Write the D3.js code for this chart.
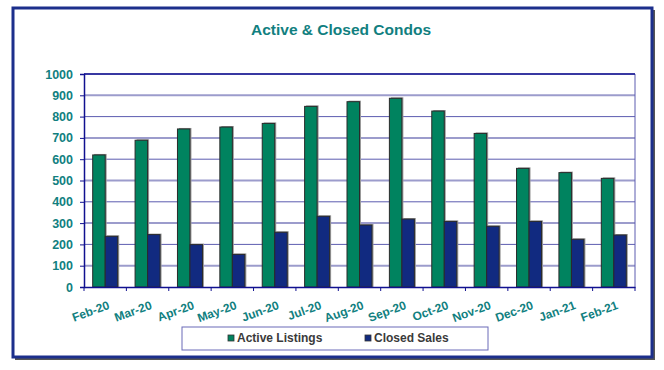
<!DOCTYPE html>
<html lang="en">
<head>
<meta charset="UTF-8">
<title>Active & Closed Condos</title>
<style>
  body { margin: 0; background: #fff; }
  svg { display: block; font-family: "Liberation Sans", Arial, sans-serif; }
</style>
</head>
<body>
<script src="https://d3js.org/d3.v7.min.js"></script>
<script>
const months = ["Feb-20", "Mar-20", "Apr-20", "May-20", "Jun-20", "Jul-20", "Aug-20",
                "Sep-20", "Oct-20", "Nov-20", "Dec-20", "Jan-21", "Feb-21"];
const activeListings = [620, 689, 742, 751, 768, 848, 870, 886, 826, 721, 557, 537, 510];
const closedSales = [238, 246, 199, 153, 257, 332, 291, 319, 308, 285, 308, 224, 244];
const seriesNames = ["Active Listings", "Closed Sales"];
const yTicks = [0, 100, 200, 300, 400, 500, 600, 700, 800, 900, 1000];

const W = 664, H = 370;
const plot = { left: 84, top: 74, right: 635, bottom: 287 };
const teal = "#117f7f";
const colors = ["#00835f", "#112a80"];

const svg = d3.select("body").append("svg")
    .attr("width", W)
    .attr("height", H);

// outer frame with shadow
svg.append("rect")
    .attr("x", 15).attr("y", 10).attr("width", 640).attr("height", 350)
    .attr("fill", "#555");
svg.append("rect")
    .attr("x", 13).attr("y", 8).attr("width", 639).attr("height", 349)
    .attr("fill", "#fff").attr("stroke", "#1c2f8c").attr("stroke-width", 3);

svg.append("text")
    .attr("x", 341).attr("y", 35)
    .attr("text-anchor", "middle")
    .attr("font-size", 15.5).attr("font-weight", "bold")
    .attr("fill", teal)
    .text("Active & Closed Condos");

const x = d3.scaleBand().domain(months).range([plot.left, plot.right]);
const y = d3.scaleLinear().domain([0, 1000]).range([plot.bottom, plot.top]);
const barW = 12.5;

// gridlines
svg.append("g").selectAll("line")
    .data(yTicks.filter(d => d > 0))
    .join("line")
    .attr("x1", plot.left).attr("x2", plot.right)
    .attr("y1", d => y(d)).attr("y2", d => y(d))
    .attr("stroke", (d, i) => i % 2 ? "#5c5cb0" : "#9c9ccc")
    .attr("stroke-width", (d, i) => i % 2 ? 1 : 2);

// plot border (right side)
svg.append("line")
    .attr("x1", plot.right).attr("x2", plot.right)
    .attr("y1", plot.top).attr("y2", plot.bottom)
    .attr("stroke", "#5c5cb0").attr("stroke-width", 1);
svg.append("line")
    .attr("x1", plot.left).attr("x2", plot.right)
    .attr("y1", plot.top).attr("y2", plot.top)
    .attr("stroke", "#101090").attr("stroke-width", 1.5);

// bars
const groups = months.map((m, i) => ({ m, vals: [activeListings[i], closedSales[i]] }));
const g = svg.append("g").selectAll("g")
    .data(groups)
    .join("g")
    .attr("transform", d => "translate(" + (x(d.m) + x.bandwidth() / 2 - barW) + ",0)");

// shadow
g.selectAll("rect.shadow")
    .data(d => d.vals)
    .join("rect")
    .attr("class", "shadow")
    .attr("x", (d, i) => i * barW + 1.5)
    .attr("y", d => y(d) - 1)
    .attr("width", barW)
    .attr("height", d => y(0) - y(d) + 1)
    .attr("fill", "#999");
g.selectAll("rect.bar")
    .data(d => d.vals)
    .join("rect")
    .attr("class", "bar")
    .attr("x", (d, i) => i * barW)
    .attr("y", d => y(d))
    .attr("width", barW)
    .attr("height", d => y(0) - y(d))
    .attr("fill", (d, i) => colors[i])
    .attr("stroke", "#2a2a2a")
    .attr("stroke-width", 1);

// y axis
const yAxis = svg.append("g")
    .attr("transform", "translate(" + plot.left + ",0)")
    .call(d3.axisLeft(y).tickValues(yTicks).tickFormat(d3.format("d")).tickSize(4).tickPadding(7));
yAxis.select(".domain").attr("stroke", "#101090").attr("stroke-width", 1.5);
yAxis.selectAll(".tick line").attr("stroke", "#101090");
yAxis.selectAll("text")
    .attr("fill", teal).attr("font-size", 12.5).attr("font-weight", "bold")
    .attr("font-family", "Liberation Sans, Arial, sans-serif");

// x axis
const xAxis = svg.append("g")
    .attr("transform", "translate(0," + plot.bottom + ")")
    .call(d3.axisBottom(x).tickSize(0).tickFormat(""));
xAxis.select(".domain").attr("stroke", "#101090").attr("stroke-width", 1.5);
xAxis.selectAll(".tick").remove();
xAxis.selectAll("line.sep")
    .data(months.concat(["end"]))
    .join("line")
    .attr("class", "sep")
    .attr("x1", (d, i) => i < months.length ? x(d) : plot.right)
    .attr("x2", (d, i) => i < months.length ? x(d) : plot.right)
    .attr("y1", 0).attr("y2", 4)
    .attr("stroke", "#101090");

svg.append("g").selectAll("text")
    .data(months)
    .join("text")
    .attr("transform", d => "translate(" + (x(d) + x.bandwidth() / 2 + 2) + "," + 300 + ") rotate(-20)")
    .attr("text-anchor", "end")
    .attr("dy", "0.75em")
    .attr("font-size", 12).attr("font-weight", "bold")
    .attr("fill", teal)
    .text(d => d);

// legend
const legend = svg.append("g");
legend.append("rect")
    .attr("x", 182).attr("y", 327).attr("width", 306).attr("height", 23)
    .attr("fill", "#fff").attr("stroke", "#6a6ab8").attr("stroke-width", 1);
const legendX = [228, 365];
const items = legend.selectAll("g")
    .data(seriesNames)
    .join("g")
    .attr("transform", (d, i) => "translate(" + legendX[i] + ",335)");
items.append("rect")
    .attr("width", 6).attr("height", 6)
    .attr("fill", (d, i) => colors[i])
    .attr("stroke", "#333").attr("stroke-width", 0.8);
items.append("text")
    .attr("x", 9).attr("y", 7)
    .attr("font-size", 12).attr("font-weight", "bold")
    .attr("fill", "#3a3a3a")
    .text(d => d);
</script>
</body>
</html>
